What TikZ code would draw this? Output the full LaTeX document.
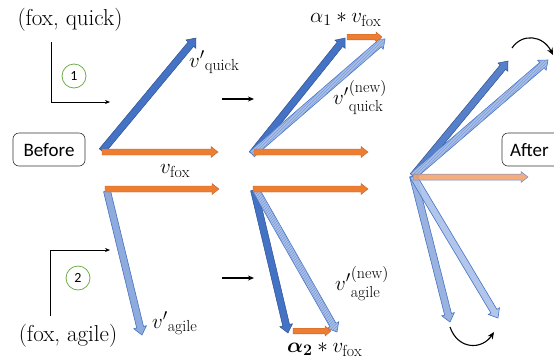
\RequirePackage{fix-cm}
\documentclass[tikz,border=0pt]{standalone}
\usepackage{amsmath,bm}
\usepackage{fontspec}
\newfontfamily\calibri{Carlito}
\DeclareMathSizes{21}{21}{16}{12}
\usetikzlibrary{calc,arrows.meta,patterns}
\definecolor{vblue}{HTML}{4472C4}
\definecolor{vdark}{HTML}{2F528F}
\definecolor{vlight}{HTML}{8FAADC}
\definecolor{vpale}{HTML}{A9C0E8}
\definecolor{vorange}{HTML}{ED7D31}
\definecolor{vodark}{HTML}{C0622A}
\definecolor{cgreen}{HTML}{70AD47}
\def\vsw{3.5pt}\def\vhw{6.5pt}\def\vhl{8pt}
\newcommand{\vecarrow}[3][]{%
  \coordinate (vaC) at ($(#3)!\vhl!(#2)$);
  \path[#1] ($(#2)!\vsw!90:(#3)$) -- ($(vaC)!\vsw!90:(#3)$) -- ($(vaC)!\vhw!90:(#3)$)
    -- (#3) -- ($(vaC)!\vhw!-90:(#3)$) -- ($(vaC)!\vsw!-90:(#3)$) -- ($(#2)!\vsw!-90:(#3)$) -- cycle;}
\tikzset{
  bluevec/.style={fill=vblue, draw=vdark, line width=0.5pt, line join=miter},
  lightvec/.style={fill=vlight, draw=vblue, line width=0.6pt},
  hatchvec/.style={fill=vpale, draw=vblue, line width=0.6pt,
    postaction={pattern=north east lines, pattern color=vblue!70}},
  orangevec/.style={fill=vorange, draw=vodark, line width=0.4pt},
  mathlbl/.style={inner sep=0pt, font=\fontsize{21}{25}\selectfont},
  serif/.style={inner sep=0pt, font=\fontsize{23}{27}\selectfont},
  roundbox/.style={draw=black!80, rounded corners=6pt, line width=0.6pt},
  boxtext/.style={inner sep=0pt, font=\calibri\fontsize{19}{22}\selectfont},
  numcircle/.style={circle, draw=cgreen, line width=0.8pt, minimum size=24pt, inner sep=0pt,
    font=\calibri\fontsize{14}{16}\selectfont},
  thinarrow/.style={line width=0.7pt, -{Stealth[length=5pt,width=4pt]}},
  steparrow/.style={line width=1.2pt, -{Stealth[length=6pt,width=5pt]}},
  swingarrow/.style={line width=1.1pt, -{Stealth[length=7pt,width=6pt]}}
}
\begin{document}
\begin{tikzpicture}[x=1pt,y=-1pt]
\useasboundingbox (0,0) rectangle (554,360);
\clip (0,0) rectangle (554,360);

% ---------- left: before ----------
\node[serif] (pq) at (70,20) {(fox, quick)};
\node[serif] (pa) at (68,336) {(fox, agile)};
\coordinate (L1a) at (51,42); \coordinate (L1b) at (110,102);
\draw[thinarrow] (L1a) |- (L1b);
\coordinate (L2a) at (50,316); \coordinate (L2b) at (110,250);
\draw[thinarrow] (L2a) |- (L2b);
\node[numcircle] (c1) at (74,76) {1};
\node[numcircle] (c2) at (78,278) {2};

\draw[roundbox] (13,133) rectangle (85,166);
\node[boxtext] (before) at (49,150) {Before};

\coordinate (O1) at (102,151); \coordinate (Q1) at (196,38);
\coordinate (F1s) at (102,152); \coordinate (F1) at (218,152);
\def\vsw{3.5pt}\def\vhw{6.5pt}\def\vhl{8pt}
\vecarrow[bluevec]{O1}{Q1}
\def\vsw{3pt}\def\vhw{5.5pt}\def\vhl{7pt}
\vecarrow[orangevec]{F1s}{F1}

\coordinate (F2s) at (105,189); \coordinate (F2) at (219,189);
\coordinate (A1s) at (107,191); \coordinate (A1) at (142,335);
\def\vsw{3.5pt}\def\vhw{6.5pt}\def\vhl{8pt}
\vecarrow[lightvec]{A1s}{A1}
\def\vsw{3pt}\def\vhw{5.5pt}\def\vhl{7pt}
\vecarrow[orangevec]{F2s}{F2}

\node[mathlbl, anchor=base west] (lq) at (189,67) {${v'}_{\mathrm{quick}}$};
\node[mathlbl, anchor=base west] (lf) at (160,173) {$v_{\mathrm{fox}}$};
\node[mathlbl, anchor=base west] (la) at (152,328) {${v'}_{\mathrm{agile}}$};

% step arrows
\coordinate (s1a) at (222,99); \coordinate (s1b) at (254,99);
\draw[steparrow] (s1a) -- (s1b);
\coordinate (s2a) at (222,278); \coordinate (s2b) at (254,278);
\draw[steparrow] (s2a) -- (s2b);

% ---------- middle ----------
\coordinate (O2) at (252,154); \coordinate (Q2) at (345,38);
\coordinate (QN2) at (385,39);
\coordinate (S1s) at (347,37); \coordinate (S1) at (382,37);
\coordinate (F3s) at (254,152); \coordinate (F3) at (368,152);
\def\vsw{3.5pt}\def\vhw{6.5pt}\def\vhl{8pt}
\vecarrow[bluevec]{O2}{Q2}
\vecarrow[hatchvec]{O2}{QN2}
\def\vsw{2.8pt}\def\vhw{5pt}\def\vhl{6pt}
\vecarrow[orangevec]{S1s}{S1}
\def\vsw{3pt}\def\vhw{5.5pt}\def\vhl{7pt}
\vecarrow[orangevec]{F3s}{F3}

\coordinate (F4s) at (253,189); \coordinate (F4) at (368,189);
\coordinate (A2s) at (254,190); \coordinate (A2) at (288,333);
\coordinate (AN2s) at (256,190); \coordinate (AN2) at (337,332);
\coordinate (S2s) at (293,331); \coordinate (S2) at (331,331);
\def\vsw{3.5pt}\def\vhw{6.5pt}\def\vhl{8pt}
\vecarrow[bluevec]{A2s}{A2}
\vecarrow[hatchvec]{AN2s}{AN2}
\def\vsw{2.8pt}\def\vhw{5pt}\def\vhl{6pt}
\vecarrow[orangevec]{S2s}{S2}
\def\vsw{3pt}\def\vhw{5.5pt}\def\vhl{7pt}
\vecarrow[orangevec]{F4s}{F4}

\node[mathlbl, anchor=base west] (la1) at (310,22) {$\alpha_1 * v_{\mathrm{fox}}$};
\node[mathlbl, anchor=base west] (lqn) at (333,104) {${v'}^{(\mathrm{new})}_{\mathrm{quick}}$};
\node[mathlbl, anchor=base west] (lan) at (335,290) {${v'}^{(\mathrm{new})}_{\mathrm{agile}}$};
\node[mathlbl, anchor=base west] (la2) at (287,352) {$\bm{\alpha_2} * v_{\mathrm{fox}}$};

% ---------- right: after ----------
\draw[roundbox] (502,133) rectangle (580,166);
\node[boxtext, anchor=west] (after) at (510,150) {After};

\coordinate (O3) at (413,176);
\coordinate (Q3) at (508,61); \coordinate (QN3) at (548,60);
\coordinate (F5s) at (413,177); \coordinate (F5) at (528,177);
\coordinate (A3) at (450,322); \coordinate (AN3) at (498,318);
\def\vsw{3.5pt}\def\vhw{6.5pt}\def\vhl{8pt}
\vecarrow[bluevec, fill opacity=0.9]{O3}{Q3}
\vecarrow[hatchvec]{O3}{QN3}
\vecarrow[lightvec, fill opacity=0.9]{O3}{A3}
\vecarrow[lightvec, fill=vpale, fill opacity=0.9]{O3}{AN3}
\def\vsw{3pt}\def\vhw{5.5pt}\def\vhl{7pt}
\vecarrow[fill=vorange!75, draw=vblue!80, line width=0.5pt, fill opacity=0.85]{F5s}{F5}

\coordinate (r1a) at (512,48); \coordinate (r1b) at (553,55);
\draw[swingarrow] (r1a) .. controls (522,33) and (543,35) .. (r1b);
\coordinate (r2a) at (450,327); \coordinate (r2b) at (494,332);
\draw[swingarrow] (r2a) .. controls (458,350) and (482,350) .. (r2b);
\end{tikzpicture}
\end{document}
